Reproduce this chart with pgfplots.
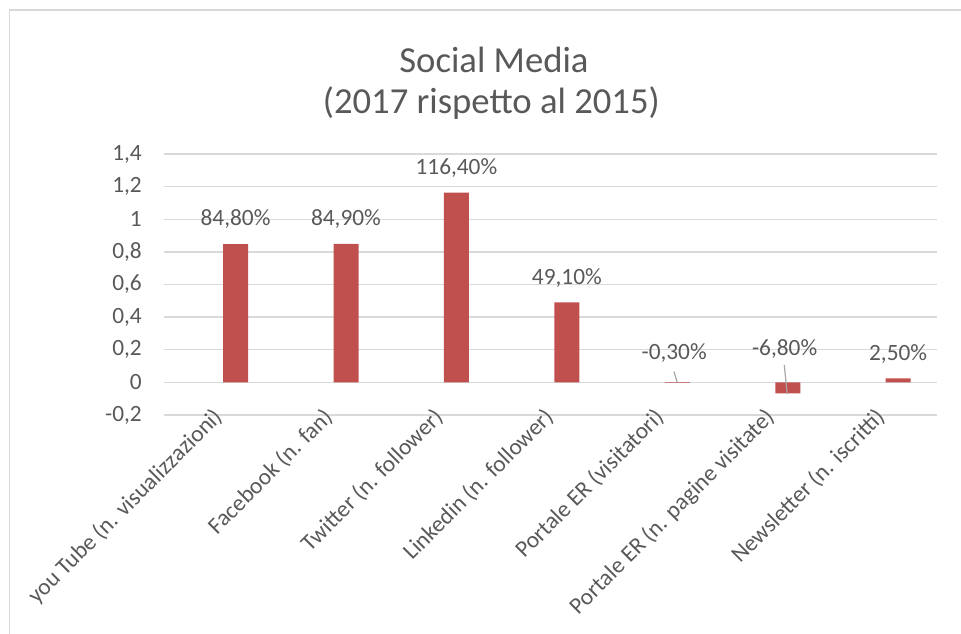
\documentclass[border=0pt]{standalone}
\usepackage{pgfplots}
\pgfplotsset{compat=1.18}
\usepackage{pgfplotstable}
\usepackage{fontspec}
\setmainfont{Carlito}
\definecolor{barred}{HTML}{C0504D}
\definecolor{txtgray}{HTML}{595959}
\definecolor{gridgray}{HTML}{D9D9D9}
\definecolor{leader}{HTML}{A6A6A6}

\pgfplotstableread{
x y lx ly lbl
0 0.848 0.148 0.999 84,80
1 0.849 1.148 1.000 84,90
2 1.164 2.148 1.315 116,40
3 0.491 3.148 0.642 49,10
4 -0.003 4.120 0.178 -0,30
5 -0.068 5.120 0.203 -6,80
6 0.025 6.148 0.176 2,50
}\datatable

\begin{document}
\begin{tikzpicture}
\path[use as bounding box] (0,0) rectangle (720.75pt,-474.75pt);
\draw[gridgray, line width=1.3pt] (7.1pt,-480pt) -- (7.1pt,-7.3pt) -- (725pt,-7.3pt);
\node[text=txtgray, font=\fontsize{27.5}{30}\selectfont, anchor=base] at (370.5pt,-54.5pt) {Social Media};
\node[text=txtgray, font=\fontsize{27.5}{30}\selectfont, anchor=base] at (368.5pt,-85pt) {(2017 rispetto al 2015)};
\begin{axis}[
  at={(123pt,-311.25pt)}, anchor=south west,
  width=579.75pt, height=195.75pt, scale only axis,
  xmin=-0.5, xmax=6.5, ymin=-0.2, ymax=1.4,
  ytick={-0.2,0,0.2,0.4,0.6,0.8,1,1.2,1.4},
  yticklabels={{-0,2},{0},{0,2},{0,4},{0,6},{0,8},{1},{1,2},{1,4}},
  xtick={0,1,2,3,4,5,6},
  xticklabels={{you Tube (n. visualizzazioni)},{Facebook (n. fan)},{Twitter (n. follower)},{Linkedin (n. follower)},{Portale ER (visitatori)},{Portale ER (n. pagine visitate)},{Newsletter (n. iscritti)}},
  ymajorgrids, grid style={gridgray, line width=1pt},
  axis line style={draw=none}, major tick length=0pt, tick style={draw=none},
  yticklabel style={anchor=east, inner sep=0pt, xshift=-16.5pt, text=txtgray, font=\fontsize{17.5}{20}\selectfont},
  xticklabel style={inner sep=0pt, xshift=-6pt, yshift=6.75pt, rotate=45, anchor=north east, text=txtgray, font=\fontsize{17.5}{20}\selectfont},
  clip=false,
]
\addplot[ybar, fill=barred, draw=none, bar width=18.75pt, bar shift=12.3pt] table[x=x,y=y]{\datatable};
\addplot[draw=none, mark=none, nodes near coords={\pgfplotspointmeta\%}, point meta=explicit symbolic,
  nodes near coords style={anchor=center, text=txtgray, font=\fontsize{17.5}{20}\selectfont}]
  table[x=lx, y=ly, meta=lbl]{\datatable};
\addplot[leader, line width=0.9pt] coordinates {(4.118,0.066) (4.148,0)};
\addplot[leader, line width=0.9pt] coordinates {(5.117,0.107) (5.144,-0.071)};
\end{axis}
\end{tikzpicture}
\end{document}
